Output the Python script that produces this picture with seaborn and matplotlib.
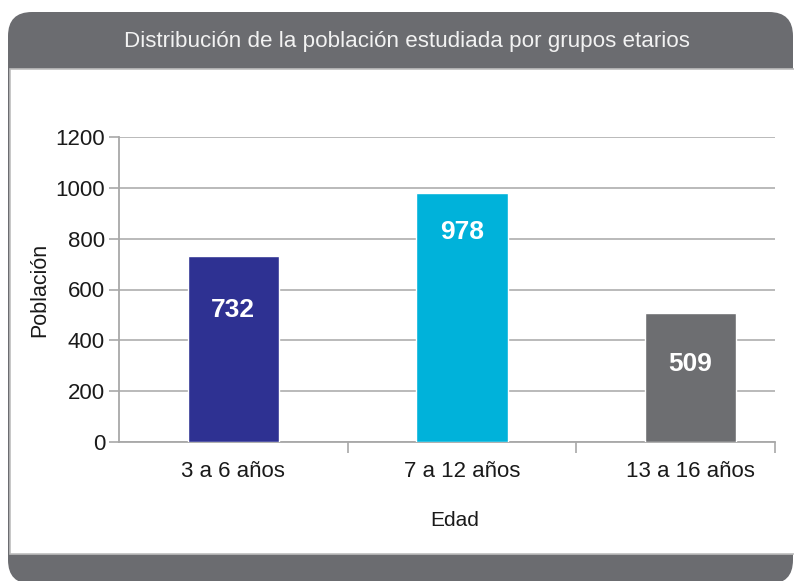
import matplotlib
matplotlib.use("Agg")
import matplotlib.pyplot as plt
import seaborn as sns
import pandas as pd
from matplotlib.patches import FancyBboxPatch, Rectangle
from matplotlib.transforms import IdentityTransform
from matplotlib.ticker import FixedLocator

# ---- data ----
categories = ["3 a 6 años", "7 a 12 años", "13 a 16 años"]
values = [732, 978, 509]
bar_colors = ["#2e3192", "#00b2da", "#6d6e71"]
y_ticks = [0, 200, 400, 600, 800, 1000, 1200]
title = "Distribución de la población estudiada por grupos etarios"
x_label = "Edad"
y_label = "Población"

sns.set_theme(style="white")
plt.rcParams['font.family'] = ['Liberation Sans', 'DejaVu Sans']

W, H = 794, 581
fig = plt.figure(figsize=(W / 100, H / 100), dpi=100)
fig.patch.set_facecolor("white")

def px(y):  # image y (top-origin) -> display y
    return H - y

# frame: dark rounded box (header + footer), white body
dark = "#6b6c70"
r = 24
outer = FancyBboxPatch((8 + r, px(584) + r), (793 - 8) - 2 * r, (584 - 12) - 2 * r,
                       boxstyle=f"round,pad={r}", transform=IdentityTransform(),
                       facecolor=dark, edgecolor="none", zorder=0)
fig.add_artist(outer)
body = Rectangle((9.5, px(554)), 800, 554 - 69, transform=IdentityTransform(),
                 facecolor="white", edgecolor="#bdbdbd", linewidth=1.2, zorder=1)
fig.add_artist(body)
fig.text(407 / W, 1 - 42 / H, title, ha="center", va="center",
         color="#f2f2f2", fontsize=16.1, zorder=3)

# axes
left, right, top, bottom = 119, 775, 137, 442
ax = fig.add_axes([left / W, 1 - bottom / H, (right - left) / W, (bottom - top) / H])
ax.set_zorder(2)
ax.patch.set_alpha(0)

df = pd.DataFrame({"cat": categories, "val": values})
sns.barplot(data=df, x="cat", y="val", hue="cat", palette=bar_colors,
            width=0.4, legend=False, saturation=1, ax=ax, zorder=3)

ax.set_ylim(0, 1200)
ax.set_xlim(-0.5, 2.37)
ax.set_yticks(y_ticks)
ax.yaxis.grid(True, color="#b4b4b4", linewidth=1.3)
ax.set_axisbelow(True)
for s in ["top", "right"]:
    ax.spines[s].set_visible(False)
for s in ["left", "bottom"]:
    ax.spines[s].set_color("#a8a8a8")
    ax.spines[s].set_linewidth(1.3)

ax.tick_params(axis="y", which="major", length=7, width=1.2, color="#a8a8a8",
               labelsize=16, pad=3, left=True)
ax.tick_params(axis="x", which="major", length=0, labelsize=16, pad=14)
ax.xaxis.set_minor_locator(FixedLocator([0.5, 1.5, 2.37]))
ax.tick_params(axis="x", which="minor", length=8, width=1.2, color="#a8a8a8",
               bottom=True, direction="out")
for lab in ax.get_xticklabels() + ax.get_yticklabels():
    lab.set_color("#1a1a1a")

ax.set_xlabel(x_label, fontsize=15, color="#1a1a1a")
ax.xaxis.set_label_coords((455 - left) / (right - left), -(520 - bottom) / (bottom - top))
ax.xaxis.label.set_va("center")
ax.set_ylabel(y_label, fontsize=15.5, color="#1a1a1a")
ax.yaxis.set_label_coords(-(left - 40) / (right - left), (bottom - 290) / (bottom - top))
ax.yaxis.label.set_va("center")

# value labels inside bars (offsets in points from bar top)
label_offsets = [-39, -28, -37]
for i, (v, off) in enumerate(zip(values, label_offsets)):
    ax.annotate(str(v), xy=(i, v), xytext=(0, off), textcoords="offset points",
                ha="center", va="center", color="white", fontsize=19,
                fontweight="bold", zorder=5)

fig.savefig("out.png", dpi=100)
